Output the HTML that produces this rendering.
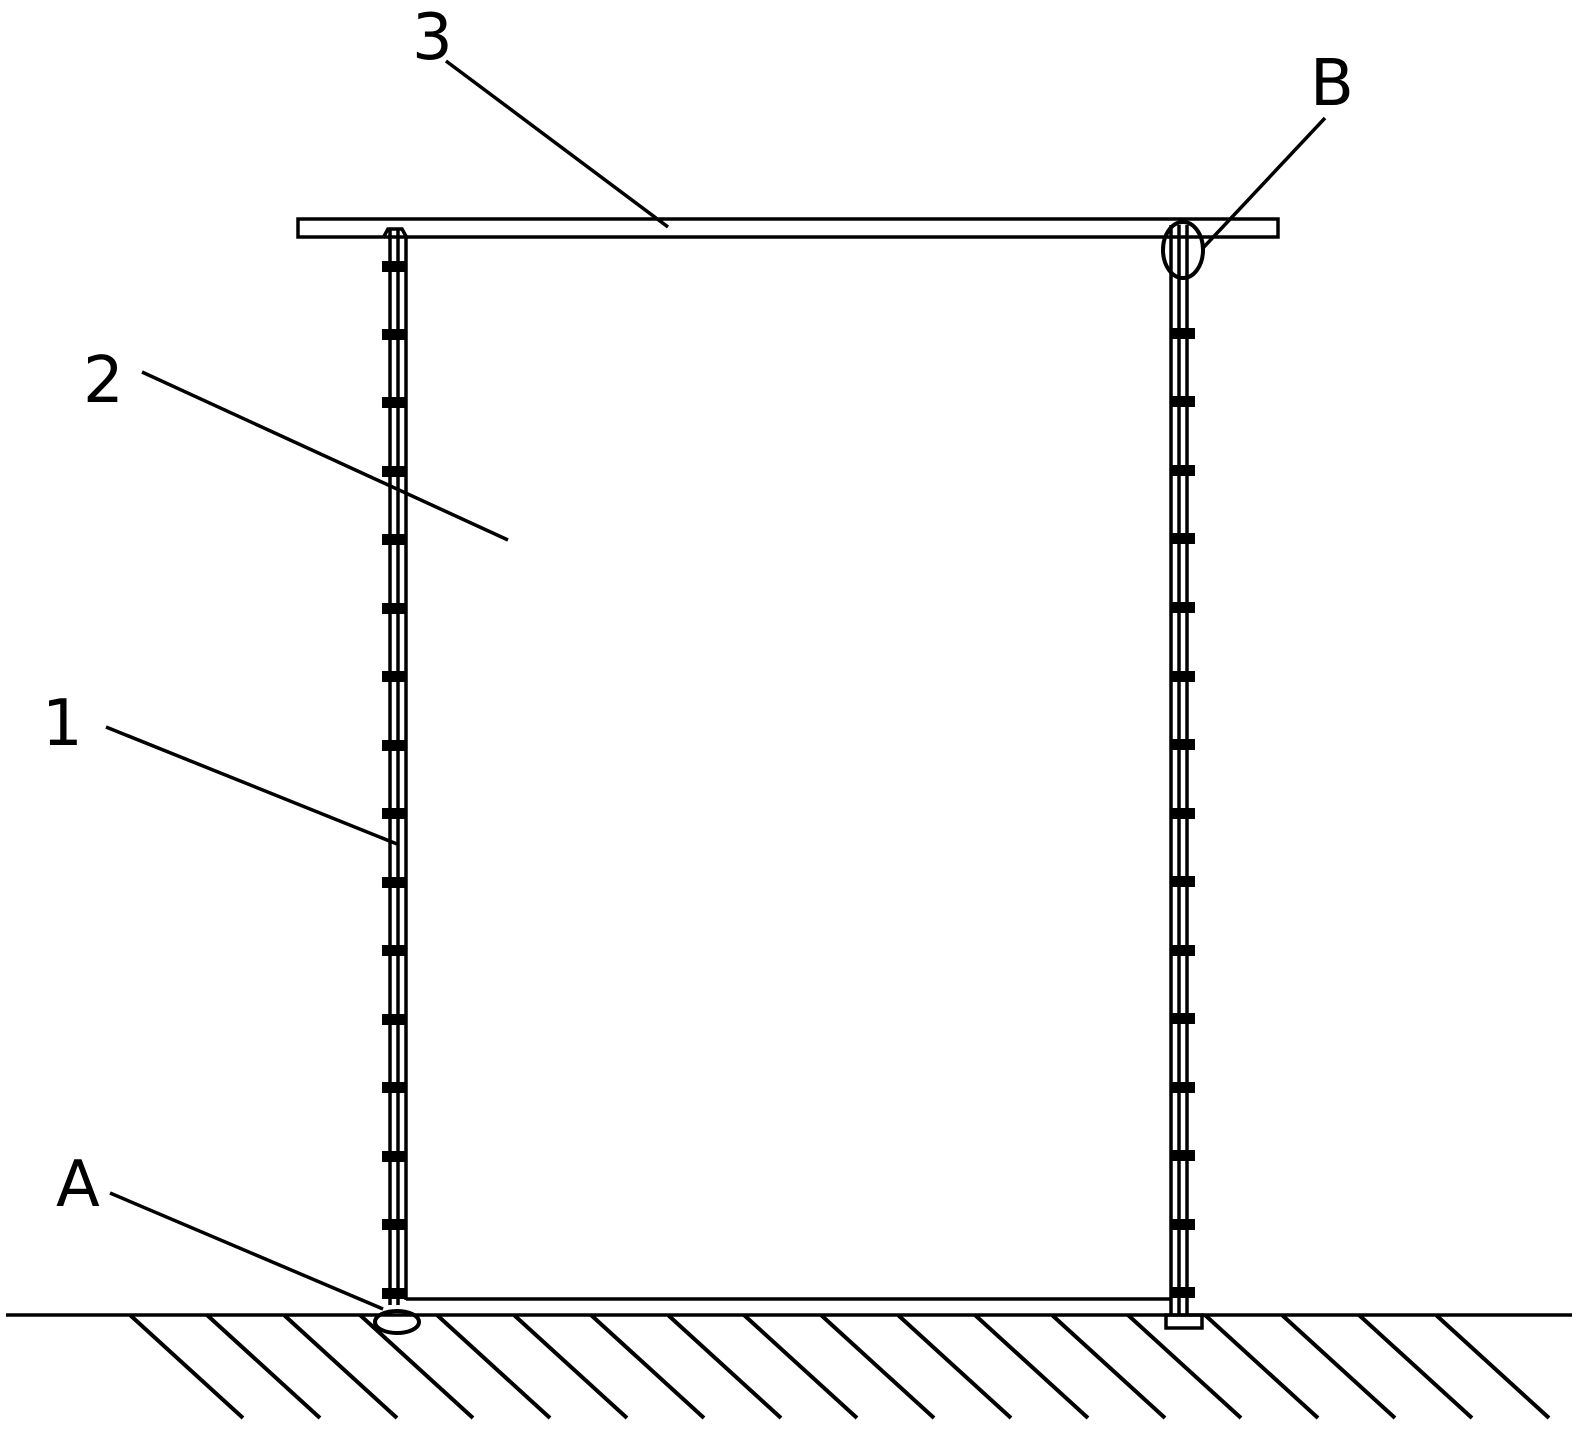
<!DOCTYPE html>
<html><head><meta charset="utf-8"><style>html,body{margin:0;padding:0;background:#fff}svg{display:block}</style></head>
<body>
<svg width="1580" height="1430" viewBox="0 0 1580 1430" xmlns="http://www.w3.org/2000/svg">
<g stroke="#000" fill="none" stroke-width="3.5">
<rect x="298" y="219" width="980" height="18"/>
<path d="M383 238 L388 229 L402 229 L407 238"/>
<line x1="390" y1="230" x2="390" y2="1305"/>
<line x1="398" y1="230" x2="398" y2="1305"/>
<line x1="406" y1="237" x2="406" y2="1300"/>
<line x1="1171" y1="225" x2="1171" y2="1315"/>
<line x1="1179" y1="225" x2="1179" y2="1315"/>
<line x1="1187" y1="225" x2="1187" y2="1315"/>
<line x1="406" y1="1299" x2="1170" y2="1299"/>
<line x1="6" y1="1315" x2="1572" y2="1315"/>
<ellipse cx="1183" cy="250" rx="20" ry="28" stroke-width="4"/>
<ellipse cx="397" cy="1322" rx="22" ry="11" stroke-width="4"/>
<rect x="1166" y="1315" width="36" height="13"/>
<line x1="446" y1="61" x2="668" y2="227"/>
<line x1="142" y1="372" x2="508" y2="540"/>
<line x1="106" y1="727" x2="397" y2="844"/>
<line x1="110" y1="1193" x2="383" y2="1309"/>
<line x1="1325" y1="118" x2="1203" y2="248"/>
</g>
<g stroke="#000" stroke-width="4">
<line x1="130" y1="1315" x2="243" y2="1418"/>
<line x1="207" y1="1315" x2="320" y2="1418"/>
<line x1="284" y1="1315" x2="397" y2="1418"/>
<line x1="360" y1="1315" x2="473" y2="1418"/>
<line x1="437" y1="1315" x2="550" y2="1418"/>
<line x1="514" y1="1315" x2="627" y2="1418"/>
<line x1="591" y1="1315" x2="704" y2="1418"/>
<line x1="668" y1="1315" x2="781" y2="1418"/>
<line x1="744" y1="1315" x2="857" y2="1418"/>
<line x1="821" y1="1315" x2="934" y2="1418"/>
<line x1="898" y1="1315" x2="1011" y2="1418"/>
<line x1="975" y1="1315" x2="1088" y2="1418"/>
<line x1="1052" y1="1315" x2="1165" y2="1418"/>
<line x1="1128" y1="1315" x2="1241" y2="1418"/>
<line x1="1205" y1="1315" x2="1318" y2="1418"/>
<line x1="1282" y1="1315" x2="1395" y2="1418"/>
<line x1="1359" y1="1315" x2="1472" y2="1418"/>
<line x1="1436" y1="1315" x2="1549" y2="1418"/>
</g>
<g fill="#000">
<rect x="382" y="261" width="24" height="11"/><rect x="382" y="329" width="24" height="11"/>
<rect x="382" y="397" width="24" height="11"/><rect x="382" y="466" width="24" height="11"/>
<rect x="382" y="534" width="24" height="11"/><rect x="382" y="603" width="24" height="11"/>
<rect x="382" y="671" width="24" height="11"/><rect x="382" y="740" width="24" height="11"/>
<rect x="382" y="808" width="24" height="11"/><rect x="382" y="877" width="24" height="11"/>
<rect x="382" y="945" width="24" height="11"/><rect x="382" y="1014" width="24" height="11"/>
<rect x="382" y="1082" width="24" height="11"/><rect x="382" y="1151" width="24" height="11"/>
<rect x="382" y="1219" width="24" height="11"/><rect x="382" y="1288" width="24" height="11"/>
<rect x="1170" y="328" width="25" height="11"/><rect x="1170" y="396" width="25" height="11"/>
<rect x="1170" y="465" width="25" height="11"/><rect x="1170" y="533" width="25" height="11"/>
<rect x="1170" y="602" width="25" height="11"/><rect x="1170" y="671" width="25" height="11"/>
<rect x="1170" y="739" width="25" height="11"/><rect x="1170" y="808" width="25" height="11"/>
<rect x="1170" y="876" width="25" height="11"/><rect x="1170" y="945" width="25" height="11"/>
<rect x="1170" y="1013" width="25" height="11"/><rect x="1170" y="1082" width="25" height="11"/>
<rect x="1170" y="1150" width="25" height="11"/><rect x="1170" y="1219" width="25" height="11"/>
<rect x="1170" y="1287" width="25" height="11"/>
</g>
<g font-family="DejaVu Sans, Liberation Sans, sans-serif" font-size="64" fill="#000">
<text x="412" y="59">3</text>
<text x="83" y="402">2</text>
<text x="42" y="745">1</text>
<text x="56" y="1206">A</text>
<text x="1310" y="105">B</text>
</g>
</svg>
</body></html>
